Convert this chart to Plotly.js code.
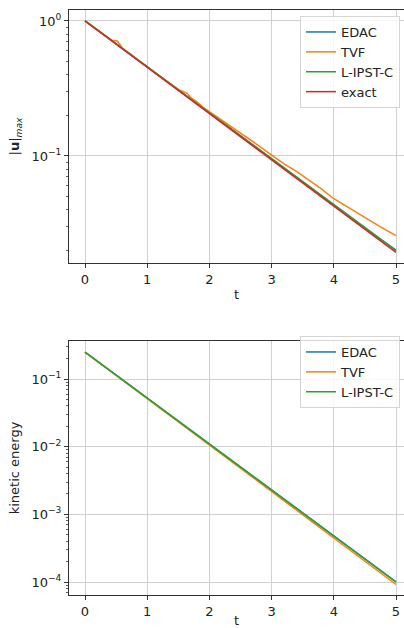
<!DOCTYPE html>
<html>
<head>
<meta charset="utf-8">
<script src="https://cdn.plot.ly/plotly-3.0.1.min.js"></script>
<style>html,body{margin:0;padding:0;background:#fff;}#chart{width:404px;height:628px;}</style>
</head>
<body>
<div id="chart"></div>
<script>
// ---- top panel: |u|_max ----
const tGrid = [0,0.25,0.5,0.75,1,1.25,1.5,1.75,2,2.25,2.5,2.75,3,3.25,3.5,3.75,4,4.25,4.5,4.75,5];
const umaxExact = [1,0.821,0.674,0.553,0.454,0.373,0.306,0.251,0.206,0.169,0.139,0.114,0.0936,0.0768,0.0631,0.0518,0.0425,0.0349,0.0286,0.0235,0.0193];
const umaxEDAC = [1,0.822,0.675,0.554,0.455,0.374,0.307,0.252,0.207,0.170,0.140,0.115,0.0945,0.0777,0.0640,0.0526,0.0433,0.0356,0.0293,0.0242,0.0201];
const umaxLIPST = [1,0.822,0.675,0.554,0.455,0.374,0.307,0.252,0.207,0.170,0.140,0.1148,0.0943,0.0775,0.0637,0.0523,0.0430,0.0353,0.0290,0.0239,0.0199];
const tTVF = [0,0.1,0.2,0.3,0.4,0.45,0.52,0.6,0.7,0.8,0.9,1.0,1.1,1.2,1.3,1.4,1.5,1.6,1.65,1.7,1.8,1.9,2.0,2.2,2.4,2.5,2.75,3.0,3.2,3.4,3.6,3.8,4.0,4.25,4.5,4.75,5.0];
const umaxTVF = [1,0.930,0.862,0.795,0.735,0.715,0.710,0.630,0.582,0.535,0.493,0.456,0.422,0.390,0.362,0.336,0.311,0.297,0.290,0.270,0.252,0.229,0.213,0.183,0.158,0.147,0.123,0.1015,0.0875,0.0770,0.0662,0.0570,0.0482,0.0410,0.0348,0.0298,0.0257];

// ---- bottom panel: kinetic energy ----
const tKE = [0,0.5,1,1.5,2,2.5,3,3.5,4,4.5,5];
const keEDAC = [0.25,0.1145,0.0524,0.0240,0.01098,0.00503,0.00230,0.001053,0.000482,0.000221,0.000101];
const keTVF = [0.25,0.1135,0.0514,0.0233,0.01057,0.00479,0.00217,0.000985,0.000447,0.000203,0.0000920];
const keLIPST = [0.25,0.1143,0.0523,0.0239,0.01094,0.00500,0.00229,0.001046,0.000478,0.000219,0.000100];

const xTicks = [0,1,2,3,4,5];
const topYTicks = [1,0.1];
const topYLabels = ['10<sup>0</sup>','10<sup>−1</sup>'];
const botYTicks = [0.1,0.01,0.001,0.0001];
const botYLabels = ['10<sup>−1</sup>','10<sup>−2</sup>','10<sup>−3</sup>','10<sup>−4</sup>'];
const topMinor = [0.02,0.03,0.04,0.05,0.06,0.07,0.08,0.09,0.2,0.3,0.4,0.5,0.6,0.7,0.8,0.9];
const botMinor = [];
[1e-4,1e-3,1e-2,1e-1].forEach(d=>{for(let k=2;k<=9;k++){botMinor.push(+(d*k).toPrecision(3));}});
botMinor.unshift(7e-5,8e-5,9e-5);

const C = {EDAC:'#1f77b4', TVF:'#ff7f0e', LIPST:'#2ca02c', exact:'#d62728'};
const lw = 1.5;

const traces = [
  {x:tGrid, y:umaxEDAC, name:'EDAC', mode:'lines', line:{color:C.EDAC,width:lw}, xaxis:'x', yaxis:'y', legend:'legend'},
  {x:tTVF, y:umaxTVF, name:'TVF', mode:'lines', line:{color:C.TVF,width:lw}, xaxis:'x', yaxis:'y', legend:'legend'},
  {x:tGrid, y:umaxLIPST, name:'L-IPST-C', mode:'lines', line:{color:C.LIPST,width:lw}, xaxis:'x', yaxis:'y', legend:'legend'},
  {x:tGrid, y:umaxExact, name:'exact', mode:'lines', line:{color:C.exact,width:lw}, xaxis:'x', yaxis:'y', legend:'legend'},
  {x:tKE, y:keEDAC, name:'EDAC', mode:'lines', line:{color:C.EDAC,width:lw}, xaxis:'x2', yaxis:'y2', legend:'legend2'},
  {x:tKE, y:keTVF, name:'TVF', mode:'lines', line:{color:C.TVF,width:lw}, xaxis:'x2', yaxis:'y2', legend:'legend2'},
  {x:tKE, y:keLIPST, name:'L-IPST-C', mode:'lines', line:{color:C.LIPST,width:lw}, xaxis:'x2', yaxis:'y2', legend:'legend2'}
];

const font = {family:'DejaVu Sans, sans-serif', size:13, color:'#222'};
const gridC = '#d0d0d0';
const lineC = '#333';

function xAxis(anchor){
  return {
    domain:[69/404,1], anchor:anchor, range:[-0.2572,5.1286],
    tickmode:'array', tickvals:xTicks, ticks:'outside', ticklen:4, tickwidth:1, tickcolor:lineC,
    showline:true, linecolor:lineC, linewidth:1, mirror:true,
    showgrid:true, gridcolor:gridC, gridwidth:1, zeroline:false,
    tickfont:font,
    title:{text:'t', font:font, standoff:4}
  };
}
function yAxis(domain, anchor, range, tv, tt, minor, title){
  return {
    type:'log', domain:domain, anchor:anchor, range:range,
    tickmode:'array', tickvals:tv, ticktext:tt, ticks:'outside', ticklen:4, tickwidth:1, tickcolor:lineC,
    minor:{tickmode:'array', tickvals:minor, ticks:'outside', ticklen:2, tickwidth:0.8, tickcolor:lineC, showgrid:false},
    showline:true, linecolor:lineC, linewidth:1, mirror:false,
    showgrid:true, gridcolor:gridC, gridwidth:1, zeroline:false,
    tickfont:font,
    title:{text:title, font:font, standoff:8}
  };
}

const legendBase = {xanchor:'left', yanchor:'top', bgcolor:'rgba(255,255,255,0.8)', bordercolor:'#d5d5d5', borderwidth:1, font:font, tracegroupgap:0, itemwidth:30, entrywidth:110};

const layout = {
  width:404, height:628,
  margin:{l:0,r:0,t:0,b:0},
  paper_bgcolor:'#fff', plot_bgcolor:'#fff',
  font:font, showlegend:true,
  xaxis: xAxis('y'),
  yaxis: yAxis([1-263/628, 1-10/628], 'x', [-1.793, 0.081], topYTicks, topYLabels, topMinor, '|<b>u</b>|<sub><i>max</i></sub>'),
  xaxis2: xAxis('y2'),
  yaxis2: yAxis([1-595.3/628, 1-340.7/628], 'x2', [-4.196, -0.434], botYTicks, botYLabels, botMinor, 'kinetic energy'),
  legend:Object.assign({x:300/404, y:1-16/628}, legendBase),
  legend2:Object.assign({x:300/404, y:1-336/628}, legendBase)
};

Plotly.newPlot('chart', traces, layout, {displayModeBar:false, staticPlot:true});
</script>
</body>
</html>
